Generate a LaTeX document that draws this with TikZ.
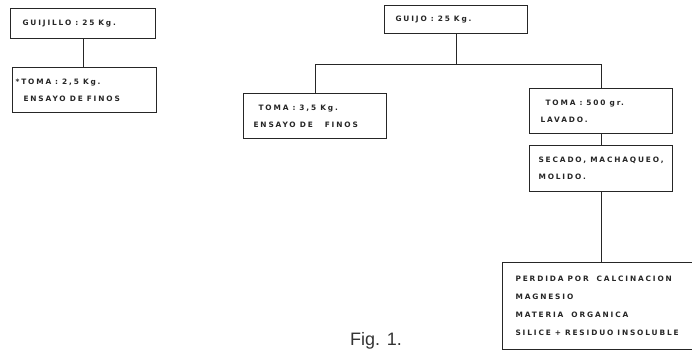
\documentclass[tikz,border=0pt]{standalone}
\usepackage{fontspec}
\setmainfont{Liberation Sans}
\newfontfamily\boxfont[LetterSpace=25]{DejaVu Sans}
\newcommand\boxtext{\boxfont\bfseries\fontsize{7.4}{17}\selectfont}
\newcommand\listtext{\boxfont\bfseries\fontsize{7.4}{18}\selectfont}
\newcommand\wsp{\hspace*{4pt}}
\usetikzlibrary{positioning,calc}

\begin{document}
\begin{tikzpicture}[
  x=1pt, y=-1pt,
  box/.style={
    draw=black!85,
    line width=1.1pt,
    anchor=north west,
    align=left,
    inner ysep=0pt,
    text=black!85,
    font=\boxtext
  },
  link/.style={
    draw=black!85,
    line width=1.1pt
  }
]

\useasboundingbox (0,0) rectangle (692,351);
\clip (0,0) rectangle (692,351);

% Left column
\node[box, text width=121pt, inner xsep=12pt, minimum height=30pt] (gjillo) at (10,8) {GUIJILLO\wsp:\wsp25\wsp Kg.};
\node[box, text width=138pt, inner xsep=3pt, minimum height=45pt] (toma25) at (12,67) {*TOMA\wsp:\wsp2,5\wsp Kg.\\\hspace*{8pt}ENSAYO\wsp DE\wsp FINOS};

% Right tree
\node[box, text width=121pt, inner xsep=11pt, minimum height=28pt] (guijo) at (384,5) {GUIJO\wsp:\wsp25\wsp Kg.};
\node[box, text width=123pt, inner xsep=10pt, minimum height=45pt] (toma35) at (243,93) {\hspace*{5pt}TOMA\wsp:\wsp3,5\wsp Kg.\\ENSAYO\wsp DE\wsp\wsp\wsp FINOS};
\node[box, text width=121pt, inner xsep=11pt, minimum height=45pt] (toma500) at (529,88) {\hspace*{5pt}TOMA\wsp:\wsp500\wsp gr.\\LAVADO.};
\node[box, text width=125pt, inner xsep=9pt, minimum height=46pt] (secado) at (529,145) {SECADO,\wsp MACHAQUEO,\\MOLIDO.};
\node[box, text width=180pt, inner xsep=13pt, minimum height=87pt, font=\listtext] (perdida) at (502,262) {PERDIDA\wsp POR\wsp\wsp CALCINACION\\MAGNESIO\\MATERIA\wsp\wsp ORGANICA\\SILICE\wsp+\wsp RESIDUO\wsp INSOLUBLE};

\coordinate (split) at ($(guijo.south)+(0,30)$);

% Connectors
\draw[link] (gjillo.south) -- (gjillo.south |- toma25.north);
\draw[link] (guijo.south) -- (split);
\draw[link] (toma35.north) |- (split) -| (toma500.north);
\draw[link] (toma500) -- (secado);
\draw[link] (secado.south) -- (secado.south |- perdida.north);

% Caption
\node[font=\fontsize{18}{20}\selectfont, text=black!80] (caption) at (376,341) {Fig. 1.};

\end{tikzpicture}
\end{document}
